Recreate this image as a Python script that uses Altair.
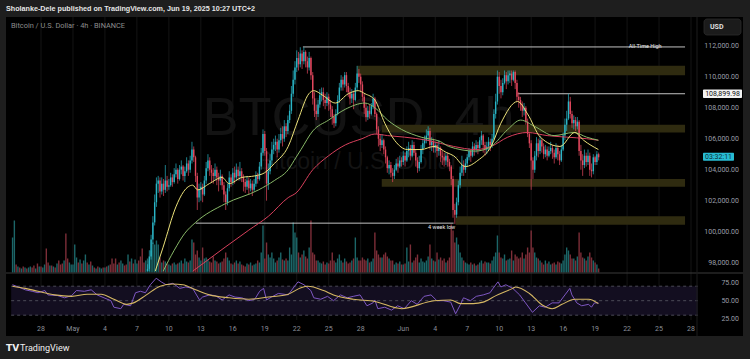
import itertools
import altair as alt
import pandas as pd

# ---------------------------------------------------------------- data
# time axis: days since 2025-04-28 00:00 UTC
TICK_DAYS = [0, 3, 6, 9, 12, 15, 18, 21, 24, 27, 30, 34, 37, 40, 43, 46, 49, 52, 55, 58, 61]
TICK_LABELS = ["28", "May", "4", "7", "10", "13", "16", "19", "22", "25", "28",
               "Jun", "4", "7", "10", "13", "16", "19", "22", "25", "28"]

PRICE_TICKS = [112, 110, 108, 106, 104, 102, 100, 98]           # thousands USD
PRICE_LABELS = ["112,000.00", "110,000.00", "108,000.00", "106,000.00",
                "104,000.00", "102,000.00", "100,000.00", "98,000.00"]
RSI_TICKS = [75, 50, 25]
RSI_LABELS = ["75.00", "50.00", "25.00"]
RSI_LEVELS = [70, 50, 30]

# 4h candles from 2025-05-08 00:00 (day 10) to 2025-06-19 08:00
CANDLE_START_DAY = 10.0
FIRST_OPEN = 97.0
CLOSE_ROWS = [
    [97.6, 98.4, 99.5, 100.6, 101.9, 103.1],
    [103.3, 102.6, 103.1, 102.7, 103.3, 102.9],
    [103.0, 103.5, 103.2, 103.7, 104.0, 103.4],
    [104.0, 104.2, 103.6, 103.9, 104.4, 104.0],
    [104.6, 105.3, 104.8, 103.6, 102.2, 102.7],
    [102.9, 102.4, 103.3, 104.1, 104.6, 104.0],
    [103.8, 103.6, 104.0, 103.5, 103.3, 103.6],
    [103.0, 102.4, 101.9, 102.8, 103.5, 103.2],
    [103.8, 103.5, 104.0, 103.6, 103.9, 103.5],
    [103.2, 102.9, 103.3, 102.8, 103.1, 102.7],
    [103.1, 103.6, 103.4, 104.2, 105.1, 106.3],
    [105.2, 103.1, 103.9, 104.6, 105.3, 105.6],
    [105.8, 105.3, 105.9, 106.3, 106.0, 106.8],
    [106.5, 107.2, 107.8, 108.9, 109.8, 110.6],
    [111.2, 110.8, 111.5, 111.0, 111.6, 111.0],
    [110.6, 111.2, 110.1, 108.6, 107.8, 107.6],
    [108.2, 108.8, 109.0, 108.5, 108.3, 108.7],
    [108.2, 107.9, 107.4, 107.0, 107.6, 108.5],
    [109.3, 109.8, 109.5, 110.1, 109.4, 109.0],
    [108.6, 108.9, 108.5, 109.3, 110.2, 110.0],
    [109.5, 108.7, 108.0, 107.4, 107.8, 107.6],
    [108.1, 108.6, 107.6, 106.6, 106.0, 105.6],
    [105.9, 105.3, 104.8, 104.1, 104.3, 103.8],
    [103.6, 104.0, 104.4, 104.2, 104.6, 104.5],
    [104.9, 104.6, 105.2, 105.4, 104.9, 105.6],
    [105.1, 104.6, 104.1, 104.5, 105.3, 105.7],
    [105.9, 106.2, 106.5, 105.6, 105.8, 105.4],
    [105.6, 105.2, 105.4, 104.9, 104.8, 104.6],
    [104.9, 104.5, 104.2, 103.4, 101.4, 101.1],
    [101.9, 103.0, 103.8, 104.3, 104.0, 104.4],
    [104.8, 105.2, 104.9, 105.5, 105.3, 105.6],
    [105.4, 105.9, 106.2, 105.6, 105.3, 105.5],
    [105.8, 105.6, 106.0, 107.6, 108.4, 110.0],
    [109.4, 109.0, 109.6, 110.1, 109.7, 110.1],
    [110.2, 109.8, 110.3, 109.6, 108.7, 108.5],
    [108.2, 107.8, 108.0, 107.1, 106.3, 105.7],
    [104.6, 104.0, 104.9, 105.7, 105.2, 105.9],
    [105.5, 105.0, 105.3, 104.9, 105.2, 105.4],
    [105.1, 104.8, 105.4, 105.0, 104.6, 105.3],
    [106.2, 106.9, 107.3, 108.4, 107.6, 107.0],
    [107.2, 106.8, 107.1, 105.2, 104.6, 104.3],
    [104.9, 104.5, 104.9, 104.0, 103.9, 104.8],
    [104.5, 105.0, 104.8],
]
HIGH_ROWS = [
    [97.9, 98.8, 99.8, 101.0, 102.4, 103.5],
    [103.6, 103.5, 103.5, 103.4, 104.3, 103.6],
    [103.4, 103.8, 103.7, 104.1, 104.4, 104.1],
    [104.3, 104.6, 104.3, 104.2, 104.8, 104.6],
    [104.9, 105.8, 105.5, 104.9, 103.8, 103.1],
    [103.2, 103.1, 103.6, 104.5, 105.0, 104.8],
    [104.3, 104.1, 104.4, 104.2, 103.8, 104.0],
    [103.7, 103.2, 102.6, 103.1, 103.9, 103.7],
    [104.1, 104.2, 104.4, 104.2, 104.5, 104.1],
    [103.7, 103.4, 103.6, 103.5, 103.4, 103.3],
    [103.4, 103.9, 103.8, 104.5, 105.4, 106.6],
    [106.5, 105.4, 104.4, 105.0, 105.8, 106.0],
    [106.2, 106.0, 106.3, 106.7, 106.8, 107.2],
    [107.0, 107.5, 108.2, 109.4, 110.4, 111.0],
    [111.7, 111.6, 111.9, 111.7, 111.9, 111.7],
    [111.3, 111.6, 111.3, 110.3, 109.0, 108.2],
    [108.5, 109.2, 109.3, 109.3, 108.9, 109.0],
    [108.9, 108.5, 108.1, 107.6, 107.9, 108.8],
    [109.6, 110.1, 110.0, 110.3, 110.3, 109.6],
    [109.3, 109.2, 109.1, 109.6, 110.7, 110.5],
    [110.2, 109.7, 108.9, 108.3, 108.1, 108.2],
    [108.3, 108.9, 108.7, 107.7, 106.8, 106.3],
    [106.3, 106.0, 105.5, 104.9, 104.6, 104.5],
    [104.1, 104.3, 104.7, 104.8, 104.9, 104.8],
    [105.2, 105.1, 105.5, 105.8, 105.6, 105.9],
    [105.8, 105.3, 104.8, 104.9, 105.6, 106.0],
    [106.2, 106.6, 106.8, 106.7, 106.1, 106.0],
    [105.8, 105.8, 105.9, 105.5, 105.2, 105.1],
    [105.1, 105.1, 104.7, 104.3, 103.6, 101.8],
    [102.2, 103.3, 104.2, 104.9, 104.6, 104.7],
    [105.0, 105.4, 105.3, 105.8, 105.7, 105.9],
    [105.8, 106.1, 106.5, 106.3, 105.8, 105.8],
    [106.1, 106.0, 106.3, 107.9, 108.9, 110.4],
    [110.3, 109.8, 109.9, 110.4, 110.3, 110.4],
    [110.4, 110.4, 110.4, 110.4, 109.8, 109.0],
    [108.7, 108.4, 108.3, 108.1, 107.3, 106.4],
    [105.9, 104.8, 105.2, 106.1, 106.0, 106.2],
    [106.0, 105.7, 105.6, 105.5, 105.5, 105.8],
    [105.6, 105.3, 105.7, 105.6, 105.2, 105.6],
    [106.4, 107.3, 107.8, 108.9, 108.7, 107.8],
    [107.5, 107.4, 107.4, 107.2, 105.6, 105.0],
    [105.3, 105.1, 105.3, 105.1, 104.4, 105.0],
    [104.9, 105.2, 105.1],
]
LOW_ROWS = [
    [96.9, 97.3, 98.2, 99.2, 100.4, 101.6],
    [102.5, 102.2, 102.4, 102.3, 102.5, 102.6],
    [102.7, 102.9, 102.9, 103.1, 103.5, 103.1],
    [103.3, 103.7, 103.3, 103.2, 103.8, 103.6],
    [103.8, 104.4, 104.5, 103.2, 101.4, 101.9],
    [102.0, 101.9, 102.3, 103.1, 103.9, 103.6],
    [103.2, 103.1, 103.3, 103.0, 102.6, 103.0],
    [102.7, 101.9, 101.4, 101.7, 102.6, 102.9],
    [103.0, 103.1, 103.3, 103.3, 103.3, 103.2],
    [102.6, 102.5, 102.7, 102.4, 102.6, 102.3],
    [102.6, 102.9, 103.1, 103.3, 104.0, 104.9],
    [104.9, 102.0, 102.7, 103.7, 104.3, 105.0],
    [105.2, 104.8, 105.1, 105.7, 105.5, 105.8],
    [106.1, 106.3, 107.0, 107.6, 108.7, 109.5],
    [110.3, 110.4, 110.6, 110.5, 110.8, 110.6],
    [110.2, 110.4, 109.8, 108.2, 107.4, 107.2],
    [107.4, 108.0, 108.4, 108.1, 107.9, 108.1],
    [107.8, 107.4, 106.9, 106.7, 106.8, 107.5],
    [108.3, 109.1, 109.1, 109.3, 109.0, 108.7],
    [108.2, 108.3, 107.9, 108.4, 109.1, 109.6],
    [109.0, 108.4, 107.6, 107.1, 107.2, 107.3],
    [107.5, 107.9, 107.4, 106.3, 105.5, 105.2],
    [105.4, 105.0, 104.4, 103.8, 103.7, 103.5],
    [103.2, 103.4, 103.9, 103.8, 104.1, 104.2],
    [104.3, 104.2, 104.5, 104.8, 104.6, 104.8],
    [104.9, 104.2, 103.8, 103.9, 104.4, 105.0],
    [105.4, 105.7, 105.9, 105.3, 105.2, 105.1],
    [105.1, 104.8, 104.9, 104.5, 104.3, 104.2],
    [104.3, 104.2, 103.9, 103.0, 100.9, 100.5],
    [100.9, 101.7, 102.8, 103.6, 103.6, 103.8],
    [104.2, 104.6, 104.5, 104.8, 104.9, 105.1],
    [105.0, 105.2, 105.6, 105.1, 104.9, 105.0],
    [105.2, 105.2, 105.4, 105.9, 107.3, 108.2],
    [108.9, 108.6, 108.8, 109.5, 109.2, 109.5],
    [109.6, 109.4, 109.7, 109.2, 108.4, 108.0],
    [107.8, 107.4, 107.5, 106.9, 106.1, 105.4],
    [102.7, 103.4, 103.8, 104.6, 104.8, 105.0],
    [105.1, 104.7, 104.8, 104.6, 104.8, 105.0],
    [104.7, 104.4, 104.7, 104.6, 104.3, 104.5],
    [105.2, 105.9, 106.5, 107.2, 107.3, 106.7],
    [106.6, 106.5, 106.6, 104.9, 104.0, 103.6],
    [104.1, 104.2, 104.3, 103.6, 103.5, 103.7],
    [104.3, 104.3, 104.6],
]

# volume before the first visible candle (2025-04-25 08:00 .. 2025-05-07 20:00), + up / - down
PRE_VOL_START_DAY = -2.0 - 16.0 / 24.0
PRE_VOLUME = [
    35, 52, -8, 6,
    -5, 4, -6, 5, -4, 5,
    6, -5, -7, 4, -9, 6,
    -6, 5, 8, -24, -10, 7,
    -7, 6, -5, 9, -12, -8,
    -9, 12, -39, -14, 10, 8,
    8, 28, 15, -10, 13, -9,
    12, 18, -10, 8, -11, 7,
    -5, 4, -6, 5, 4, -5,
    5, -6, 7, -8, -14, -9,
    -14, 8, -10, 12, 9, -7,
    -8, 18, -11, 14, -9, 13,
    9, -12, -16, -24, -10, 12,
]
# volume of the visible candles
CANDLE_VOL_ROWS = [
    [14, 12, 22, 30, 28, 32], [28, 15, 10, 12, 11, 9], [8, 7, 9, 10, 8, 9],
    [10, 12, 9, 14, 11, 10], [12, 33, 30, 18, 22, 15], [12, 25, 14, 15, 13, 11],
    [10, 16, 12, 11, 9, 10], [11, 14, 20, 15, 12, 9], [8, 10, 12, 9, 11, 8],
    [7, 6, 9, 8, 10, 7], [8, 9, 12, 10, 20, 47], [14, 30, 18, 15, 20, 14],
    [10, 12, 15, 20, 13, 12], [14, 12, 25, 18, 50, 40], [35, 20, 15, 18, 22, 16],
    [14, 25, 52, 20, 18, 12], [12, 10, 9, 11, 8, 10], [9, 12, 20, 12, 10, 14],
    [18, 12, 10, 14, 11, 9], [10, 12, 14, 35, 15, 12], [12, 15, 13, 12, 14, 10],
    [11, 14, 40, 22, 18, 15], [15, 18, 20, 16, 14, 12], [12, 8, 10, 9, 11, 8],
    [8, 9, 25, 11, 28, 10], [12, 15, 18, 10, 14, 11], [10, 12, 16, 28, 14, 12],
    [11, 20, 13, 15, 12, 14], [10, 12, 15, 48, 42, 30], [35, 28, 20, 15, 12, 10],
    [9, 8, 10, 8, 9, 7], [8, 10, 12, 9, 11, 10], [10, 9, 12, 16, 20, 37],
    [20, 15, 14, 18, 12, 13], [14, 22, 12, 18, 16, 14], [15, 20, 14, 18, 25, 20],
    [42, 25, 20, 15, 14, 12], [10, 8, 12, 9, 11, 8], [9, 10, 8, 11, 10, 9],
    [12, 18, 25, 22, 18, 14], [14, 12, 16, 40, 20, 15], [14, 12, 16, 20, 15, 12],
    [10, 8, 4],
]

# moving averages (day, price in thousands)
EMA_FAST_DAY = [10.72, 11.46, 12.66, 13.4, 14.23, 14.70, 15.80, 17.00, 17.65, 18.85, 20.06,
                20.98, 21.90, 23.20, 24.12, 25.14, 25.6, 26.43, 27.63, 28.84, 29.76, 30.41,
                31.33, 32.26, 33.18, 34.38, 35.67, 36.88, 38.08, 38.72, 39.83, 41.0, 42.24,
                43.16, 44.73, 45.66, 46.86, 48.71, 50.09, 50.92, 52.31]
EMA_FAST = [97.4, 99.0, 101.6, 102.6, 103.0, 102.7, 103.1, 103.5, 103.1, 103.5, 103.6,
            103.8, 104.4, 105.5, 107.2, 108.9, 109.1, 108.8, 108.3, 108.9, 109.1, 108.9,
            108.5, 107.0, 105.9, 105.3, 105.3, 105.5, 105.1, 104.9, 104.2, 104.6, 105.5,
            107.0, 108.4, 107.6, 106.1, 105.5, 106.4, 105.9, 105.3]
EMA_MID_DAY = [11.46, 12.5, 13.5, 14.51, 17.28, 20.43, 21.90, 23.2, 23.94, 24.4, 25.51,
               26.99, 28.56, 30.41, 31.33, 32.53, 33.83, 35.67, 37.52, 38.26, 40.76, 42.24,
               43.81, 45.01, 46.3, 48.15, 50.0, 51.2, 52.31]
EMA_MID = [97.4, 98.8, 99.9, 100.6, 101.8, 102.7, 103.3, 104.0, 104.8, 105.3, 106.5,
           107.2, 107.9, 108.3, 108.0, 107.2, 106.6, 106.1, 105.8, 105.5, 105.2, 105.5,
           106.6, 107.2, 106.8, 106.2, 106.4, 106.1, 105.9]
EMA_SLOW_DAY = [14.23, 17.28, 19.5, 21.35, 23.2, 23.94, 25.51, 26.99, 28.56, 30.13, 31.33,
                32.53, 34.1, 36.23, 38.72, 40.76, 42.24, 43.81, 45.66, 47.5, 49.35, 51.2, 52.31]
EMA_SLOW = [97.4, 99.0, 100.1, 101.0, 102.2, 102.5, 104.0, 104.9, 105.6, 106.0, 106.3,
            106.2, 106.1, 105.9, 105.5, 105.3, 105.5, 106.1, 106.4, 106.2, 106.1, 106.0, 105.9]

RSI_DAY = [-2.68, -2.13, -1.48, -0.83, -0.28, 0.37, 0.65, 1.57, 2.22, 2.87, 3.33, 4.07, 4.71,
           5.27, 5.91, 6.56, 6.84, 7.49, 7.76, 8.41, 8.87, 9.33, 9.80, 10.26, 10.81, 11.28,
           11.74, 12.38, 13.03, 13.59, 14.23, 14.88, 15.16, 15.80, 16.36, 17.0, 17.65, 18.21,
           18.85, 19.50, 20.06, 20.52, 20.89, 21.16, 21.63, 22.27, 23.20, 23.75, 24.12, 24.68,
           25.32, 25.60, 26.25, 26.89, 27.45, 28.10, 28.74, 29.30, 29.94, 30.59, 31.15, 31.33,
           31.61, 32.26, 32.90, 33.46, 34.10, 34.75, 35.30, 35.95, 36.60, 37.15, 37.80, 38.45,
           38.91, 39.37, 39.65, 40.30, 40.85, 41.50, 42.14, 42.42, 42.88, 43.16, 43.62, 44.27,
           44.92, 45.47, 46.12, 46.77, 47.32, 47.97, 48.61, 49.17, 49.63, 49.82, 50.28, 50.74,
           51.39, 51.66, 51.94, 52.31]
RSI = [72, 69, 65, 63, 61, 64, 58, 57, 54, 57, 64, 63, 65,
       58, 54, 50, 41, 39, 45, 43, 61, 63, 61, 72, 81, 76,
       72, 74, 67, 69, 67, 51, 55, 58, 57, 51, 58, 55,
       54, 50, 52, 63, 67, 51, 55, 60, 58, 69, 76, 72,
       64, 54, 52, 56, 50, 58, 54, 56, 58, 43, 47, 51,
       39, 41, 37, 43, 39, 50, 45, 56, 58, 50, 50, 48,
       32, 45, 54, 50, 56, 58, 61, 67, 76, 69, 72, 67,
       58, 47, 34, 43, 41, 47, 47, 58, 67, 58, 47, 43,
       45, 41, 47, 47]
RSI_MA_DAY = [-2.68, -1.48, -0.28, 1.29, 2.87, 4.34, 5.64, 6.84, 8.04, 8.69, 9.89, 11.18,
              12.38, 13.31, 14.51, 15.80, 17.65, 19.50, 21.35, 23.20, 24.40, 25.05, 26.52,
              27.45, 29.30, 31.33, 33.83, 36.88, 38.45, 39.37, 40.57, 41.50, 42.70, 44.27,
              44.55, 45.84, 47.04, 47.97, 48.89, 50.09, 51.39, 52.31]
RSI_MA = [70, 67, 63, 58, 56, 59, 59, 52, 45, 47, 58, 70,
          73, 72, 65, 58, 54, 52, 55, 59, 68, 70, 64,
          58, 52, 49, 39, 50, 51, 46, 46, 48, 57, 67,
          69, 60, 44, 39, 45, 52, 52, 46]

# horizontal zones (day from, day to, price low, price high)
ZONE_D0 = [29.67, 31.98, 31.98, 38.91]
ZONE_D1 = [60.44, 60.44, 60.44, 60.44]
ZONE_LO = [110.1, 106.4, 102.9, 100.45]
ZONE_HI = [110.7, 106.9, 103.4, 101.0]

# drawn levels (day from, day to, price)
LEVEL_D0 = [24.58, 14.51, 44.73]
LEVEL_D1 = [60.44, 38.72, 60.44]
LEVEL_P = [111.92, 100.55, 108.9]
NOTE_TEXT = ["All-Time High", "4 week low"]
NOTE_DAY = [56.7, 37.6]
NOTE_P = [112.2, 100.33]

LAST_LEVEL = 108.89998
COUNTDOWN_LEVEL = 104.84

# ---------------------------------------------------------------- build tables
closes = list(itertools.chain.from_iterable(CLOSE_ROWS))
highs = list(itertools.chain.from_iterable(HIGH_ROWS))
lows = list(itertools.chain.from_iterable(LOW_ROWS))
cvol = list(itertools.chain.from_iterable(CANDLE_VOL_ROWS))
opens = [FIRST_OPEN] + closes[:-1]
n = len(closes)
candles = pd.DataFrame({
    "d": [CANDLE_START_DAY + i / 6.0 for i in range(n)],
    "o": opens, "c": closes,
})
candles["h"] = [max(h, o, c) for h, o, c in zip(highs, opens, closes)]
candles["l"] = [min(l, o, c) for l, o, c in zip(lows, opens, closes)]
UP, DOWN = "#2ab5c6", "#e4485e"
candles["col"] = [UP if c >= o else DOWN for o, c in zip(opens, closes)]

VUP, VDOWN = "#1d6b6e", "#84303b"
vol_rows = []
for i, v in enumerate(PRE_VOLUME):
    vol_rows.append({"d": PRE_VOL_START_DAY + i / 6.0, "v": abs(v), "col": VUP if v > 0 else VDOWN})
for i, v in enumerate(cvol):
    vol_rows.append({"d": CANDLE_START_DAY + i / 6.0, "v": v,
                     "col": VUP if closes[i] >= opens[i] else VDOWN})
volume = pd.DataFrame(vol_rows)

# ---------------------------------------------------------------- scales (view = 737 x 319)
XS = alt.Scale(domain=[0, 61], range=[30, 690], nice=False, zero=False)
PS = alt.Scale(domain=[97.45, 112], range=[254.2, 28.7], nice=False, zero=False, clamp=True)
VS = alt.Scale(domain=[0, 100], range=[255.5, 155.5], nice=False, zero=False)
RS = alt.Scale(domain=[0, 100], range=[319.95, 247.45], nice=False, zero=False)

FONT = "Roboto"


def X(f):
    return alt.X(f, type="quantitative", scale=XS, axis=None)


def Y(f, s):
    return alt.Y(f, type="quantitative", scale=s, axis=None)


one = pd.DataFrame({"k": [0]})
layers = []

# vertical grid
grid = pd.DataFrame({"d": TICK_DAYS})
layers.append(alt.Chart(grid).mark_rule(color="#141414", strokeWidth=1).encode(
    x=X("d"), y=alt.value(0), y2=alt.value(303)))

# watermark
wm = pd.DataFrame({"t": ["BTCUSD, 4h", "Bitcoin / U.S. Dollar"], "d": [29.8, 29.8], "p": [107.3, 104.5]})
layers.append(alt.Chart(wm.iloc[[0]]).mark_text(font="Liberation Sans", fontSize=54, color="#131313",
                                                align="center", baseline="middle").encode(
    x=X("d"), y=Y("p", PS), text="t"))
layers.append(alt.Chart(wm.iloc[[1]]).mark_text(font="Liberation Sans", fontSize=23, color="#131313",
                                                align="center", baseline="middle").encode(
    x=X("d"), y=Y("p", PS), text="t"))

# RSI pane band and levels
band = pd.DataFrame({"d0": [-2.8], "d1": [61.65], "lo": [30], "hi": [70]})
layers.append(alt.Chart(band).mark_rect(color="#130e20").encode(
    x=X("d0"), x2="d1", y=Y("lo", RS), y2="hi"))
lv = pd.DataFrame({"d0": [-2.8] * 3, "d1": [61.65] * 3, "r": RSI_LEVELS})
layers.append(alt.Chart(lv).mark_rule(color="#5a5a66", strokeDash=[3, 3], strokeWidth=0.8).encode(
    x=X("d0"), x2="d1", y=Y("r", RS)))

# zones
zones = pd.DataFrame({"d0": ZONE_D0, "d1": ZONE_D1, "lo": ZONE_LO, "hi": ZONE_HI})
layers.append(alt.Chart(zones).mark_rect(color="#2f2b10").encode(
    x=X("d0"), x2="d1", y=Y("lo", PS), y2="hi"))

# volume
layers.append(alt.Chart(volume).mark_bar(size=1.4, opacity=0.95).encode(
    x=X("d"), y=Y("v", VS), color=alt.Color("col:N", scale=None)))

# levels
levels = pd.DataFrame({"d0": LEVEL_D0, "d1": LEVEL_D1, "p": LEVEL_P})
layers.append(alt.Chart(levels).mark_rule(color="#d8d8d8", strokeWidth=0.9).encode(
    x=X("d0"), x2="d1", y=Y("p", PS)))

# candles
layers.append(alt.Chart(candles).mark_rule(strokeWidth=0.7).encode(
    x=X("d"), y=Y("l", PS), y2="h", color=alt.Color("col:N", scale=None)))
layers.append(alt.Chart(candles).mark_bar(size=1.4).encode(
    x=X("d"), y=Y("o", PS), y2="c", color=alt.Color("col:N", scale=None)))

# moving averages
for days, vals, col in [(EMA_SLOW_DAY, EMA_SLOW, "#d8405c"),
                        (EMA_MID_DAY, EMA_MID, "#88b868"),
                        (EMA_FAST_DAY, EMA_FAST, "#ece27a")]:
    df = pd.DataFrame({"d": days, "p": vals})
    layers.append(alt.Chart(df).mark_line(color=col, strokeWidth=1, interpolate="monotone").encode(
        x=X("d"), y=Y("p", PS)))

# RSI lines
rsi = pd.DataFrame({"d": RSI_DAY, "r": RSI})
layers.append(alt.Chart(rsi).mark_line(color="#7e57c2", strokeWidth=1).encode(x=X("d"), y=Y("r", RS)))
rsima = pd.DataFrame({"d": RSI_MA_DAY, "r": RSI_MA})
layers.append(alt.Chart(rsima).mark_line(color="#d6b863", strokeWidth=1.1, interpolate="monotone").encode(
    x=X("d"), y=Y("r", RS)))

# pane separator and price-scale border
layers.append(alt.Chart(one).mark_rule(color="#3a3a3a", strokeWidth=1).encode(
    x=alt.value(0), x2=alt.value(737), y=alt.value(256)))
layers.append(alt.Chart(one).mark_rule(color="#1c1c1c", strokeWidth=1).encode(
    x=alt.value(691), y=alt.value(0), y2=alt.value(319)))

# axis labels
pl = pd.DataFrame({"p": PRICE_TICKS, "t": PRICE_LABELS})
layers.append(alt.Chart(pl).mark_text(font=FONT, fontSize=7, color="#9a9ea8", align="right",
                                      baseline="middle").encode(
    x=alt.value(733), y=Y("p", PS), text="t"))
rl = pd.DataFrame({"r": RSI_TICKS, "t": RSI_LABELS})
layers.append(alt.Chart(rl).mark_text(font=FONT, fontSize=7, color="#9a9ea8", align="right",
                                      baseline="middle").encode(
    x=alt.value(733), y=Y("r", RS), text="t"))
xl = pd.DataFrame({"d": TICK_DAYS, "t": TICK_LABELS})
layers.append(alt.Chart(xl).mark_text(font=FONT, fontSize=7, color="#8a8e98", align="center",
                                      baseline="middle").encode(
    x=X("d"), y=alt.value(312), text="t"))

# price tags
tags = pd.DataFrame({"lo": [LAST_LEVEL - 0.27, COUNTDOWN_LEVEL - 0.26],
                     "hi": [LAST_LEVEL + 0.27, COUNTDOWN_LEVEL + 0.26],
                     "p": [LAST_LEVEL, COUNTDOWN_LEVEL],
                     "t": ["108,899.98", "03:32:11"]})
layers.append(alt.Chart(tags.iloc[[0]]).mark_rect(color="#f2f2f2", cornerRadius=1).encode(
    x=alt.value(697), x2=alt.value(736), y=Y("lo", PS), y2="hi"))
layers.append(alt.Chart(tags.iloc[[1]]).mark_rect(color="#27bcd3", cornerRadius=1).encode(
    x=alt.value(697), x2=alt.value(728), y=Y("lo", PS), y2="hi"))
layers.append(alt.Chart(tags.iloc[[0]]).mark_text(font=FONT, fontSize=7, color="#111111",
                                                  align="center", baseline="middle").encode(
    x=alt.value(716.5), y=Y("p", PS), text="t"))
layers.append(alt.Chart(tags.iloc[[1]]).mark_text(font=FONT, fontSize=7, color="#0d2e36",
                                                  align="center", baseline="middle").encode(
    x=alt.value(712.5), y=Y("p", PS), text="t"))

# notes on levels
notes = pd.DataFrame({"t": NOTE_TEXT, "d": NOTE_DAY, "p": NOTE_P})
layers.append(alt.Chart(notes).mark_text(font=FONT, fontSize=5.5, color="#e8e8e8", align="center",
                                         baseline="middle").encode(
    x=X("d"), y=Y("p", PS), text="t"))

# header, legend line, USD box, footer
layers.append(alt.Chart(one).mark_text(text="Sholanke-Dele published on TradingView.com, Jun 19, 2025 10:27 UTC+2",
                                       font="Liberation Sans", fontSize=7.2, fontWeight="bold",
                                       color="#e6e6e6", align="left", baseline="middle").encode(
    x=alt.value(0), y=alt.value(-8.5)))
layers.append(alt.Chart(one).mark_text(text="Bitcoin / U.S. Dollar · 4h · BINANCE",
                                       font=FONT, fontSize=7.4, color="#8c8c8c",
                                       align="left", baseline="middle").encode(
    x=alt.value(5), y=alt.value(9)))
layers.append(alt.Chart(one).mark_rect(color="#1b1b1b", stroke="#2c2c2c", strokeWidth=0.8,
                                       cornerRadius=3).encode(
    x=alt.value(698), x2=alt.value(735), y=alt.value(2), y2=alt.value(18)))
layers.append(alt.Chart(one).mark_text(text="USD", font=FONT, fontSize=7, fontWeight="bold",
                                       color="#e0e0e0", align="left", baseline="middle").encode(
    x=alt.value(704), y=alt.value(10)))
layers.append(alt.Chart(one).mark_text(text="TV", font="DejaVu Sans", fontSize=9, fontWeight="bold",
                                       color="#f0f0f0", align="left", baseline="middle").encode(
    x=alt.value(0), y=alt.value(331)))
layers.append(alt.Chart(one).mark_text(text="TradingView", font=FONT, fontSize=9,
                                       color="#f0f0f0", align="left", baseline="middle").encode(
    x=alt.value(14), y=alt.value(331)))

chart = alt.layer(*layers).resolve_scale(y="independent").properties(
    width=737, height=319,
    padding={"left": 6, "top": 17, "right": 7, "bottom": 23},
    autosize=alt.AutoSizeParams(type="none"),
    background="#1e1e1e",
).configure_view(fill="#000000", stroke=None)

chart.save("out.html", embed_options={"renderer": "svg", "actions": False})
